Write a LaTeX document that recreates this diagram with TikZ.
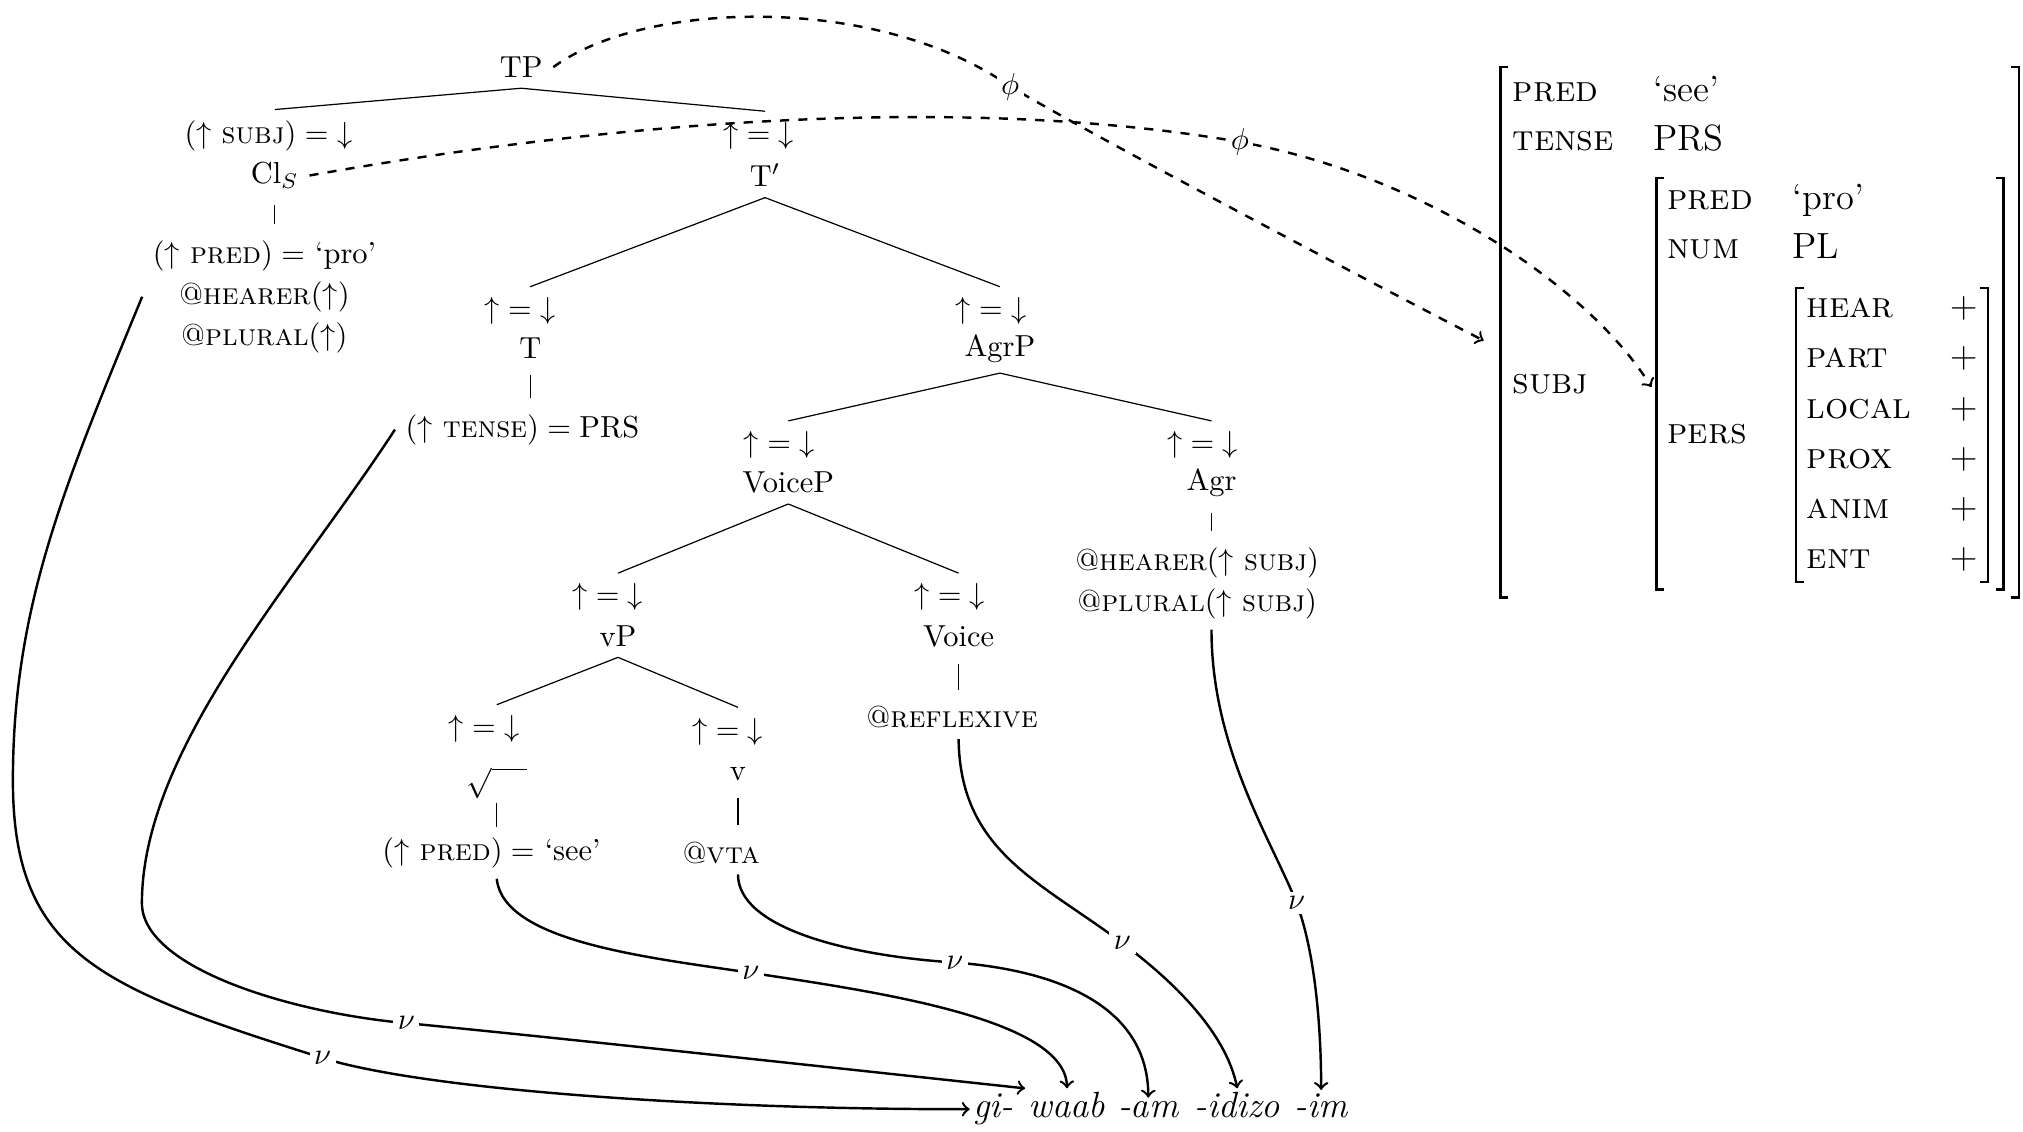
\documentclass[tikz,border=0pt]{standalone}
\begin{document}
\begin{tikzpicture}[x=0.01493cm, y=-0.01493cm,
  branch/.style={thin},
  unary/.style={thin, shorten <=2pt, shorten >=2pt},
  corr/.style={->, thick},
  phicorr/.style={->, thick, dashed},
  lbl/.style={fill=white, inner sep=1.5pt},
  fsattr/.style={anchor=base west, inner sep=0pt, font=\large},
  fsbrack/.style={thick},
  morph/.style={anchor=base, inner sep=1pt, font=\large\itshape}]
  \useasboundingbox (0,0) rectangle (1568,877);
  % c-structure
  \node (TP) at (404,52) {TP};
  \node (subjeq) at (208,105) {$({\uparrow}\ \textsc{subj}) = {\downarrow}$};
  \node (ClS) at (213,136) {Cl$_S$};
  \node (tbareq) at (588,105) {${\uparrow} = {\downarrow}$};
  \node (Tbar) at (593,136) {T$'$};
  \node[align=center] (pro) at (205,230) {$({\uparrow}\ \textsc{pred}) =$ `pro'\\[1.5pt] @\textsc{hearer}$({\uparrow})$\\[1.5pt] @\textsc{plural}$({\uparrow})$};
  \node (teq) at (403,241) {${\uparrow} = {\downarrow}$};
  \node (T) at (411,270) {T};
  \node (agrpeq) at (768,241) {${\uparrow} = {\downarrow}$};
  \node (AgrP) at (775,270) {AgrP};
  \node (tense) at (405,333) {$({\uparrow}\ \textsc{tense}) = \mathrm{PRS}$};
  \node (voicepeq) at (604,345) {${\uparrow} = {\downarrow}$};
  \node (VoiceP) at (611,374) {VoiceP};
  \node (agreq) at (932,345) {${\uparrow} = {\downarrow}$};
  \node (Agr) at (939,374) {Agr};
  \node[align=center] (agrann) at (928,452) {@\textsc{hearer}$({\uparrow}\ \textsc{subj})$\\[1.5pt] @\textsc{plural}$({\uparrow}\ \textsc{subj})$};
  \node (vpeq) at (471,463) {${\uparrow} = {\downarrow}$};
  \node (vP) at (479,493) {vP};
  \node (voiceeq) at (736,463) {${\uparrow} = {\downarrow}$};
  \node (Voice) at (743,493) {Voice};
  \node (refl) at (738,556) {@\textsc{reflexive}};
  \node (rooteq) at (375,565) {${\uparrow} = {\downarrow}$};
  \node[inner sep=1pt] (root) at (385,607) {$\sqrt{\phantom{xx}}$};
  \node (veq) at (564,567) {${\uparrow} = {\downarrow}$};
  \node (v) at (572,600) {v};
  \node (see) at (381,661) {$({\uparrow}\ \textsc{pred}) =$ `see'};
  \node (vta) at (559,661) {@\textsc{vta}};
  % tree lines
  \draw[branch] (TP.south) -- (subjeq.north -| ClS);
  \draw[branch] (TP.south) -- (tbareq.north -| Tbar);
  \draw[unary] (ClS.south) -- (ClS.south |- pro.north);
  \draw[branch] (Tbar.south) -- (teq.north -| T);
  \draw[branch] (Tbar.south) -- (agrpeq.north -| AgrP);
  \draw[unary] (T.south) -- (T.south |- tense.north);
  \draw[branch] (AgrP.south) -- (voicepeq.north -| VoiceP);
  \draw[branch] (AgrP.south) -- (agreq.north -| Agr);
  \draw[unary] (Agr.south) -- (Agr.south |- agrann.north);
  \draw[branch] (VoiceP.south) -- (vpeq.north -| vP);
  \draw[branch] (VoiceP.south) -- (voiceeq.north -| Voice);
  \draw[unary] (Voice.south) -- (Voice.south |- refl.north);
  \draw[branch] (vP.south) -- (rooteq.north -| root);
  \draw[branch] (vP.south) -- (veq.north -| v);
  \draw[branch] (root.south) -- (root.south |- see.north);
  \draw[unary] (v.south) -- (v.south |- vta.north);
  % string
  \node[morph] (gi) at (770,866) {gi-};
  \node[morph] (waab) at (827,866) {waab};
  \node[morph] (am) at (890,866) {-am};
  \node[morph] (idizo) at (959,866) {-idizo};
  \node[morph] (im) at (1024,866) {-im};
  % f-structure
  \draw[fsbrack] (1169,52) -- (1163,52) -- (1163,463) -- (1169,463);
  \draw[fsbrack] (1559,52) -- (1565,52) -- (1565,463) -- (1559,463);
  \draw[fsbrack] (1290,138) -- (1284,138) -- (1284,457) -- (1290,457);
  \draw[fsbrack] (1547,138) -- (1553,138) -- (1553,457) -- (1547,457);
  \draw[fsbrack] (1398,223) -- (1392,223) -- (1392,451) -- (1398,451);
  \draw[fsbrack] (1535,223) -- (1541,223) -- (1541,451) -- (1535,451);
  \coordinate (fs) at (1150,264);
  \coordinate (subjfs) at (1280,300);
  \node[fsattr] (pred) at (1172,79) {\textsc{pred}};
  \node[fsattr] (predval) at (1281,79) {`see'};
  \node[fsattr] (tns) at (1172,117) {\textsc{tense}};
  \node[fsattr] (tnsval) at (1281,117) {PRS};
  \node[fsattr] (subj) at (1172,305) {\textsc{subj}};
  \node[fsattr] (spred) at (1292,162) {\textsc{pred}};
  \node[fsattr] (spredval) at (1389,162) {`pro'};
  \node[fsattr] (num) at (1292,200) {\textsc{num}};
  \node[fsattr] (numval) at (1389,200) {PL};
  \node[fsattr] (pers) at (1292,344) {\textsc{pers}};
  \foreach \f [count=\i] in {hear,part,local,prox,anim,ent} {
    \node[fsattr] (feat\i) at (1400,207+39*\i) {\textsc{\f}};
    \node[anchor=base, font=\large] (plus\i) at (1522,207+39*\i) {$+$};
  }
  % correspondences
  \draw[corr] (pro.west) .. controls (50,376) and (10,470) .. (10,605)
    .. controls (10,740) and (79,766) .. (250,820) node[lbl] (nu1) {$\nu$}
    .. controls (330,845) and (550,860) .. (gi.west);
  \draw[corr] (tense.west) .. controls (230,450) and (110,580) .. (110,700)
    .. controls (110,750) and (225,785) .. (315,793) node[lbl] (nu2) {$\nu$}
    .. controls (420,803) and (650,828) .. (waab.north west);
  \draw[corr] (see.south -| root) .. controls (390,730) and (502,742) .. (582,754) node[lbl] (nu3) {$\nu$}
    .. controls (682,769) and (826,790) .. (waab.north);
  \draw[corr] (vta.south -| v) .. controls (572,720) and (660,741) .. (740,746) node[lbl] (nu4) {$\nu$}
    .. controls (820,752) and (890,780) .. (am.north);
  \draw[corr] (refl.south -| Voice) .. controls (744,660) and (806,683) .. (870,731) node[lbl] (nu5) {$\nu$}
    .. controls (910,761) and (950,800) .. (idizo.north);
  \draw[corr] (agrann.south -| Agr) .. controls (939,580) and (985,650) .. (1005,700) node[lbl] (nu6) {$\nu$}
    .. controls (1020,740) and (1024,800) .. (im.north);
  \draw[phicorr] (TP.east) .. controls (500,0) and (680,-5) .. (783,67) node[lbl] (phi1) {$\phi$}
    .. controls (850,107) and (1080,228) .. (fs);
  \draw[phicorr] (ClS.east) .. controls (500,90) and (760,75) .. (961,110) node[lbl] (phi2) {$\phi$}
    .. controls (1100,135) and (1230,220) .. (subjfs);
\end{tikzpicture}
\end{document}
